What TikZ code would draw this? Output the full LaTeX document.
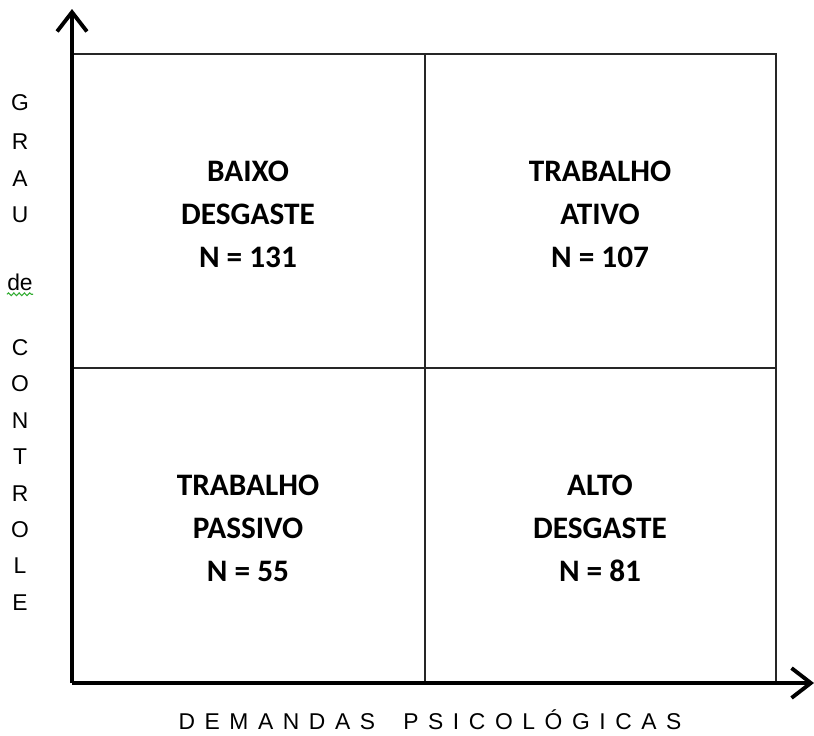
\documentclass[tikz,border=0pt]{standalone}
\usepackage{fontspec}
\usetikzlibrary{arrows.meta,decorations.pathmorphing}
\newfontfamily\quadfont{Carlito}
\newfontfamily\axisfont{Liberation Sans}
\newfontfamily\spacedfont[LetterSpace=42]{Liberation Sans}

\begin{document}
\begin{tikzpicture}[x=0.02cm, y=-0.02cm,
    axis/.style={line width=2.2pt, -{Straight Barb[length=11pt, width=17pt, line width=2.2pt]}},
    grid/.style={line width=1.1pt, black!85},
    quad/.style={align=center, font=\quadfont\bfseries\fontsize{17.8}{24.5}\selectfont},
    axislabel/.style={font=\axisfont\fontsize{13}{15}\selectfont, inner sep=0pt}]

\useasboundingbox (0,0) rectangle (814,735);

% Corners of the grid
\coordinate (O) at (72,683);
\coordinate (TL) at (72,54);
\coordinate (TM) at (425,54);
\coordinate (TR) at (776,54);
\coordinate (ML) at (72,368);
\coordinate (MR) at (776,368);
\coordinate (BM) at (425,683);
\coordinate (BR) at (776,683);

% Ends of the axes
\coordinate (Ytip) at (72,9);
\coordinate (Xtip) at (814,683);

% Draw the grid
\draw[grid] (TL) -- (TR) -- (BR);
\draw[grid] (TM) -- (BM);
\draw[grid] (ML) -- (MR);

% Draw the axes
\draw[axis] (O) -- (Ytip);
\draw[axis] (O) -- (Xtip);

% Label the quadrants
\node[quad] (baixo) at (248,214) {BAIXO\\DESGASTE\\N = 131};
\node[quad] (ativo) at (600,214) {TRABALHO\\ATIVO\\N = 107};
\node[quad] (passivo) at (248,528) {TRABALHO\\PASSIVO\\N = 55};
\node[quad] (alto) at (600,528) {ALTO\\DESGASTE\\N = 81};

% Label the axes
\foreach \ch/\y [count=\i] in {G/103, R/142, A/179, U/215, de/282, C/348, O/384,
    N/421, T/457, R/494, O/530, L/566, E/603}
  \node[axislabel] (ylab\i) at (20,\y) {\ch};
\draw[green!60!black!80, line width=0.6pt, decorate,
    decoration={snake, amplitude=0.8pt, segment length=3pt}]
  ([yshift=-2pt]ylab5.south west) -- ([yshift=-2pt]ylab5.south east);

\node[axislabel, font=\spacedfont\fontsize{13}{15}\selectfont] (xlab) at (430,720)
  {DEMANDAS\hspace{7pt} PSICOLÓGICAS};

\end{tikzpicture}
\end{document}
